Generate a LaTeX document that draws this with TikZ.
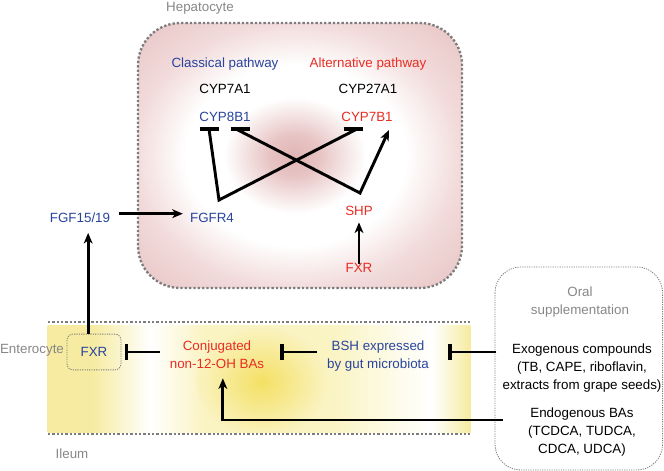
\documentclass[tikz,border=0pt]{standalone}
\usepackage{fontspec}
\setmainfont{Liberation Sans}
\usetikzlibrary{arrows.meta,calc}

\definecolor{blueT}{RGB}{40,68,158}
\definecolor{redT}{RGB}{232,45,35}
\definecolor{grayT}{RGB}{135,135,135}
\definecolor{dotG}{RGB}{125,125,125}
\definecolor{yelA}{RGB}{246,235,160}
\definecolor{yelB}{RGB}{250,243,194}
\definecolor{yelC}{RGB}{253,250,226}
\definecolor{yelD}{RGB}{244,224,100}

% pink cell: pink centre, white ring, pink rim
\pgfdeclareradialshading{hepShade}{\pgfpoint{-1bp}{0bp}}{%
  rgb(0bp)=(0.88,0.71,0.71); rgb(4bp)=(0.91,0.77,0.77);
  rgb(11bp)=(1,1,1); rgb(17bp)=(1,1,1);
  rgb(25bp)=(0.95,0.86,0.86); rgb(35bp)=(0.91,0.77,0.77); rgb(50bp)=(0.91,0.77,0.77)}

\begin{document}
\begin{tikzpicture}[x=0.03cm, y=-0.03cm, >={Stealth[length=9pt,width=7.5pt,inset=2.5pt]}]

	% Styles for texts, links and dotted borders
	\tikzset{
		txt/.style={font=\fontsize{11.4}{15}\selectfont, align=center, inner sep=2pt},
		blueTxt/.style={txt, text=blueT},
		redTxt/.style={txt, text=redT},
		grayTxt/.style={txt, text=grayT},
		blackTxt/.style={txt, text=black},
		act/.style={->, line width=2.5pt},
		link/.style={line width=2.5pt},
		inh/.style={-{Bar[width=14pt,line width=3pt]}, line width=2.5pt},
		tbar/.style={line width=3.2pt},
		bigDots/.style={draw=dotG, line width=2pt, dash pattern=on 2pt off 1.7pt},
		thinDots/.style={draw=dotG, line width=0.7pt, dash pattern=on 1pt off 1pt}
	}

	\useasboundingbox (0,0) rectangle (664,471);

	% Hepatocyte cell
	\shadedraw[shading=hepShade, bigDots, rounded corners=36pt] (138,23) rectangle (462,288);

	% Enterocyte band (yellow, piecewise shading)
	\foreach \xa/\xb/\ca/\cb in {48/92/yelA/yelA, 92/150/yelA/white, 150/205/white/yelB,
		205/330/yelB/yelB, 330/385/yelB/yelC, 385/432/yelC/white, 432/470/white/yelA} {
		\shade[left color=\ca, right color=\cb] ({\xa-0.4},325) rectangle ({\xb+0.4},432);
	}
	\begin{scope}
		\clip (48,325) rectangle (470,432);
		\shade[inner color=yelD, outer color=yelB] (262,382) ellipse (66 and 56);
	\end{scope}
	\foreach \y in {322,434} {
		\draw[bigDots] (48,\y) -- (470,\y);
	}

	% Oral supplementation box
	\draw[thinDots, rounded corners=22pt] (495,267) rectangle (662.6,470);

	% Labels of the compartments
	\node[grayTxt, anchor=base] (hepLbl) at (200,11) {Hepatocyte};
	\node[grayTxt, anchor=base] (entLbl) at (32,353) {Enterocyte};
	\node[grayTxt, anchor=base] (ileLbl) at (72,458) {Ileum};
	\node[grayTxt] (oral) at (580,302) {Oral\\supplementation};

	% Hepatocyte nodes
	\node[blueTxt, anchor=base] (classic) at (225,67) {Classical pathway};
	\node[redTxt, anchor=base] (alter) at (368,67) {Alternative pathway};
	\node[blackTxt, anchor=base] (cyp7a1) at (225,93) {CYP7A1};
	\node[blackTxt, anchor=base] (cyp27a1) at (368,93) {CYP27A1};
	\node[blueTxt, anchor=base] (cyp8b1) at (225,121) {CYP8B1};
	\node[redTxt, anchor=base] (cyp7b1) at (367,121) {CYP7B1};
	\node[blueTxt, anchor=base] (fgfr4) at (212,222) {FGFR4};
	\node[blueTxt, anchor=base] (fgf) at (80,222) {FGF15/19};
	\node[redTxt, anchor=base] (shp) at (359,215) {SHP};
	\node[redTxt, anchor=base] (fxrH) at (359,272) {FXR};

	% Ileum nodes
	\node[blueTxt, thinDots, rounded corners=5pt, minimum width=46pt, minimum height=30.5pt] (fxrI) at (94,352) {FXR};
	\node[redTxt, inner xsep=8.5pt] (conj) at (217,355) {Conjugated\\non-12-OH BAs};
	\node[blueTxt, inner xsep=8.5pt] (bsh) at (378,356) {BSH expressed\\by gut microbiota};
	\node[blackTxt] (exo) at (582,368) {Exogenous compounds\\(TB, CAPE, riboflavin,\\extracts from grape seeds)};
	\node[blackTxt] (endo) at (582,432) {Endogenous BAs\\(TCDCA, TUDCA,\\CDCA, UDCA)};

	% Bends and ends of the crossing links
	\coordinate (vFg) at (219,200);
	\coordinate (vSh) at (360,193);
	\coordinate (b8a) at (209,129);
	\coordinate (b8b) at (236,129);
	\coordinate (b7) at (357,129);
	\coordinate (t7) at (389,130);
	\coordinate (endoIn) at (503,420);

	% FGFR4 inhibits CYP8B1 and CYP7B1, SHP inhibits CYP8B1 and activates CYP7B1
	\draw[link] (b8a) -- (vFg) -- (b7);
	\draw[act] (b8b) -- (vSh) -- (t7);
	\foreach \b/\dx in {b8a/0, b8b/4, b7/-4} {
		\draw[tbar] ($(\b)+(\dx-9.5,0)$) -- ($(\b)+(\dx+9.5,0)$);
	}

	% FXR -> SHP in the liver
	\draw[act, shorten <=-3pt, shorten >=4pt] (fxrH) -- (shp);

	% FGF15/19 -> FGFR4
	\draw[act, shorten <=5pt, shorten >=4pt] ([yshift=3pt]fgf.east) -- ([yshift=3pt]fgf.east -| fgfr4.west);

	% intestinal FXR -> FGF15/19
	\draw[act, shorten >=7pt] ([xshift=-5pt]fxrI.north) -- ([xshift=-5pt]fxrI.north |- fgf.south);

	% inhibitions along the enterocyte
	\draw[inh, shorten >=3pt] (conj.west |- fxrI) -- (fxrI.east);
	\draw[inh] (bsh.west |- fxrI) -- ([xshift=5pt]conj.east |- fxrI);
	\draw[inh, shorten <=3pt] (exo.west |- fxrI) -- ([xshift=8pt]bsh.east |- fxrI);

	% endogenous BAs -> conjugated BAs
	\draw[act, shorten >=6pt] (endoIn) -| ([xshift=5pt]conj.south);

\end{tikzpicture}
\end{document}
